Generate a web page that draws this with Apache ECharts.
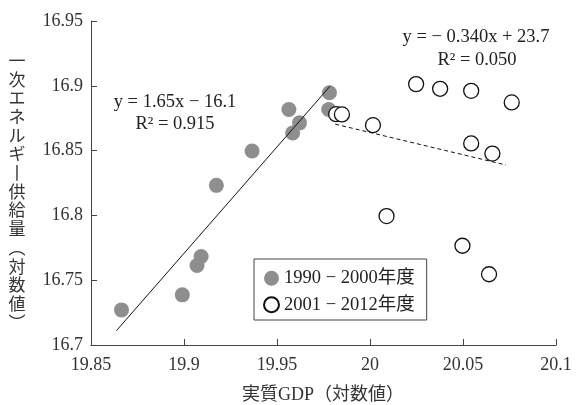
<!DOCTYPE html>
<html><head><meta charset="utf-8">
<script src="https://cdn.jsdelivr.net/npm/echarts@6/dist/echarts.min.js"></script>
<style>html,body{margin:0;padding:0;background:#fff}#c{width:579px;height:405px}</style>
</head><body><div id="c"></div>
<script>
// 1990-2000 (filled gray)
const period1 = [
  [19.8664,16.7271],[19.8991,16.7387],[19.9070,16.7613],[19.9092,16.7683],
  [19.9174,16.8232],[19.9366,16.8497],[19.9564,16.8817],[19.9584,16.8636],
  [19.9621,16.8714],[19.9782,16.8946],[19.9778,16.8817]
];
// 2001-2012 (hollow)
const period2 = [
  [19.9818,16.8781],[19.9849,16.8779],[20.0016,16.8696],[20.0089,16.7995],
  [20.0248,16.9013],[20.0377,16.8977],[20.0544,16.8961],[20.0762,16.8872],
  [20.0544,16.8555],[20.0658,16.8477],[20.0497,16.7766],[20.0640,16.7546]
];
const fit1 = [[19.8637,16.7111],[19.9786,16.8998]];
const fit2 = [[19.9813,16.8704],[20.0731,16.8389]];
const seriesNames = ['1990 − 2000年度','2001 − 2012年度'];
const eq1 = ['y = 1.65x − 16.1','R² = 0.915'];
const eq2 = ['y = − 0.340x + 23.7','R² = 0.050'];
const yLabelChars = ['一','次','エ','ネ','ル','ギ','丨','供','給','量','︵','対','数','値','︶'];
const xName = '実質GDP（対数値）';

const serif = '"Liberation Serif","Noto Sans CJK JP",serif';
const chart = echarts.init(document.getElementById('c'), null, {renderer:'canvas'});
const axisCommon = {
  axisLine:{show:true,lineStyle:{color:'#444',width:1}},
  axisTick:{show:true,inside:true,length:6,lineStyle:{color:'#444'}},
  splitLine:{show:false},
  axisLabel:{color:'#333',fontFamily:serif,fontSize:18}
};
chart.setOption({
  animation:false,
  grid:{left:91,right:23,top:21,bottom:60},
  xAxis:Object.assign({type:'value',min:19.85,max:20.1,interval:0.05},axisCommon,{
    axisLabel:Object.assign({},axisCommon.axisLabel,{margin:11})}),
  yAxis:Object.assign({type:'value',min:16.7,max:16.95,interval:0.05},axisCommon,{
    axisLabel:Object.assign({},axisCommon.axisLabel,{margin:8})}),
  legend:{
    orient:'vertical',left:254,top:259,
    data:seriesNames,
    borderColor:'#444',borderWidth:1,borderRadius:0,
    padding:[10,12,6,9],itemGap:8,itemWidth:15,itemHeight:15,
    textStyle:{color:'#222',fontFamily:serif,fontSize:18.5,lineHeight:18}
  },
  series:[
    {name:seriesNames[0],type:'scatter',data:period1,symbolSize:15,z:2,
     itemStyle:{color:'#8e8e8e',opacity:1}},
    {name:'fit1',type:'line',data:fit1,symbol:'none',z:3,
     lineStyle:{color:'#111',width:1}},
    {name:'fit2',type:'line',data:fit2,symbol:'none',z:3,
     lineStyle:{color:'#111',width:1,type:[4,3]}},
    {name:seriesNames[1],type:'scatter',data:period2,symbolSize:15,z:4,
     itemStyle:{color:'#fff',borderColor:'#111',borderWidth:1.3,opacity:1}}
  ],
  graphic:[
    {type:'text',x:175,y:102,style:{text:eq1[0],fill:'#222',font:'18.5px '+serif,textAlign:'center',textVerticalAlign:'middle'}},
    {type:'text',x:175,y:124,style:{text:eq1[1],fill:'#222',font:'18.5px '+serif,textAlign:'center',textVerticalAlign:'middle'}},
    {type:'text',x:476,y:37,style:{text:eq2[0],fill:'#222',font:'18.5px '+serif,textAlign:'center',textVerticalAlign:'middle'}},
    {type:'text',x:477,y:60,style:{text:eq2[1],fill:'#222',font:'18.5px '+serif,textAlign:'center',textVerticalAlign:'middle'}},
    {type:'text',x:17,y:51,style:{text:yLabelChars.join('\n'),fill:'#333',font:'17px "Noto Sans CJK JP",sans-serif',lineHeight:18.7,textAlign:'center'}},
    {type:'text',x:323,y:395,style:{text:xName,fill:'#333',font:'18px '+serif,textAlign:'center',textVerticalAlign:'middle'}}
  ]
});
</script></body></html>
